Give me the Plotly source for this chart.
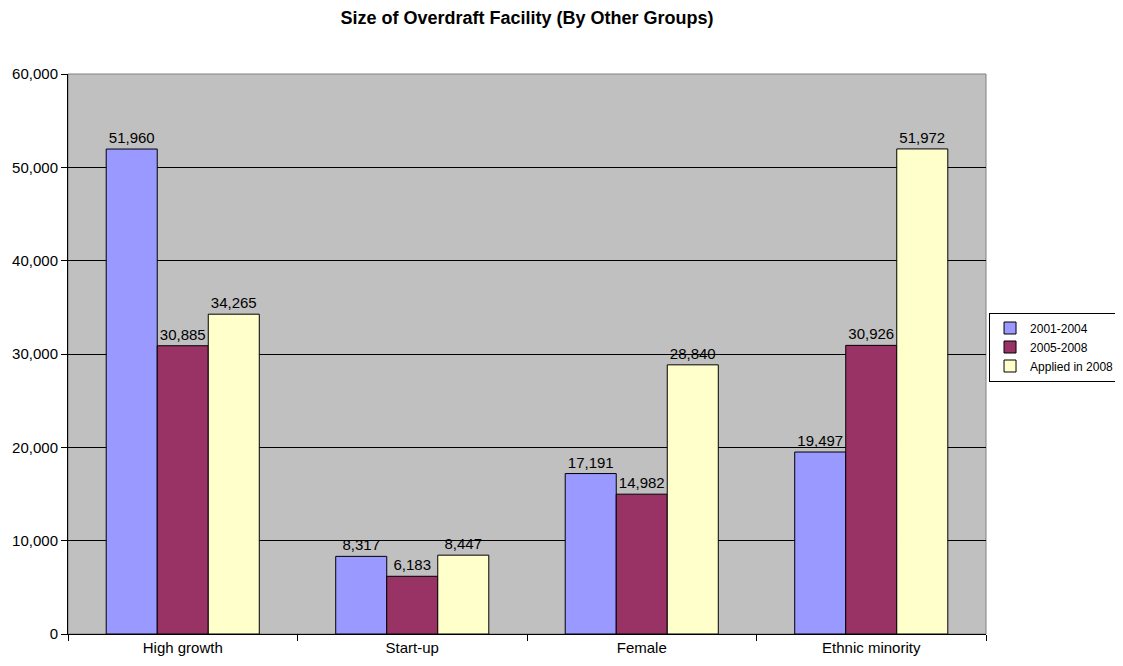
import plotly.graph_objects as go

categories = ["High growth", "Start-up", "Female", "Ethnic minority"]
series_names = ["2001-2004", "2005-2008", "Applied in 2008"]
v2001_2004 = [51960, 8317, 17191, 19497]
v2005_2008 = [30885, 6183, 14982, 30926]
v_applied_2008 = [34265, 8447, 28840, 51972]
colors = ["#9999FF", "#993366", "#FFFFCC"]
y_ticks = [0, 10000, 20000, 30000, 40000, 50000, 60000]

FONT = "Liberation Sans, Arial, sans-serif"
FS = 15

fig = go.Figure()
for name, vals, col in zip(series_names, [v2001_2004, v2005_2008, v_applied_2008], colors):
    fig.add_trace(go.Bar(
        x=categories, y=vals, name=name,
        marker=dict(color=col, line=dict(color="black", width=1)),
        text=[f"{v:,}" for v in vals], textposition="outside",
        textfont=dict(family=FONT, size=FS, color="black"),
        cliponaxis=False,
    ))

# page is offset by the 8px body margin
W, H = 1115, 658
fig.update_layout(
    width=W, height=H,
    margin=dict(l=60, r=137, t=66, b=32, autoexpand=False),
    paper_bgcolor="white", plot_bgcolor="#C0C0C0",
    barmode="group", bargap=0.333, bargroupgap=0,
    font=dict(family=FONT, size=FS, color="black"),
    title=dict(text="<b>Size of Overdraft Facility (By Other Groups)</b>",
               x=0.5, xanchor="center", xref="paper", y=1 - 10 / H, yanchor="middle",
               font=dict(family=FONT, size=18, color="black")),
    showlegend=True,
    legend=dict(x=1.0033, xanchor="left", y=0.5125, yanchor="middle",
                bgcolor="white", bordercolor="black", borderwidth=1,
                font=dict(family=FONT, size=12, color="black"),
                itemwidth=30, tracegroupgap=0),
)
fig.update_yaxes(range=[0, 60000], tickvals=y_ticks, tickformat=",",
                 showgrid=True, gridcolor="black", gridwidth=1,
                 showline=True, linecolor="black", linewidth=1,
                 ticks="outside", ticklen=6, tickcolor="black", automargin=False,
                 zeroline=False, tickfont=dict(family=FONT, size=FS, color="black"))
fig.update_xaxes(showline=True, linecolor="black", linewidth=1,
                 ticks="outside", ticklen=6, tickcolor="black", tickson="boundaries",
                 showgrid=False, automargin=False,
                 tickfont=dict(family=FONT, size=FS, color="black"))
fig.add_shape(type="rect", xref="paper", yref="paper", x0=0, x1=1, y0=0, y1=1,
              line=dict(color="#808080", width=1), layer="below")

fig.write_html("out.html")
